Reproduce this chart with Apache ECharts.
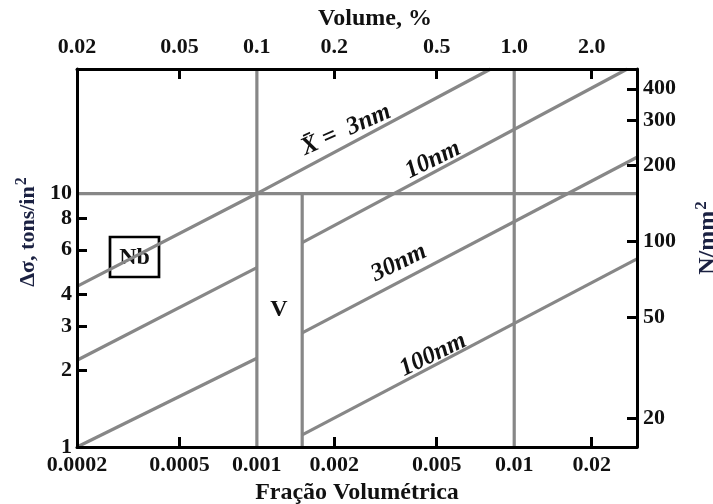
<!DOCTYPE html>
<html>
<head>
<meta charset="utf-8">
<script src="https://cdn.jsdelivr.net/npm/echarts@6/dist/echarts.min.js"></script>
<style>
  html, body { margin: 0; padding: 0; background: #ffffff; }
  #chart { width: 713px; height: 504px; }
</style>
</head>
<body>
<div id="chart"></div>
<script>
// Bottom axis: volume fraction; top axis: the same scale expressed in volume percent
const fractionLabelValues = [0.0002, 0.0005, 0.001, 0.002, 0.005, 0.01, 0.02];
const fractionLabelText   = ['0.0002', '0.0005', '0.001', '0.002', '0.005', '0.01', '0.02'];
const fractionTickValues  = [0.0005, 0.002, 0.005, 0.02];
const percentLabelValues  = [0.02, 0.05, 0.1, 0.2, 0.5, 1, 2];
const percentLabelText    = ['0.02', '0.05', '0.1', '0.2', '0.5', '1.0', '2.0'];
const percentTickValues   = [0.05, 0.2, 0.5, 2];

// Left axis: strengthening in tons/in²; right axis: the same in N/mm²
const strengthLabelValues = [1, 2, 3, 4, 6, 8, 10];
const strengthTickValues  = [2, 3, 4, 6, 8];
const stressLabelValues   = [20, 50, 100, 200, 300, 400];
const TONS_PER_IN2_TO_N_PER_MM2 = 15.444;

const fractionRange = [0.0002, 0.03];
const strengthRange = [1, 31];

// Strengthening vs. volume fraction for each mean particle size.
// Each curve is a list of unbroken segments of [volume fraction, Δσ (tons/in²)].
const particleSizes = ['3nm', '10nm', '30nm', '100nm'];
const curve3nm   = [[[0.0002, 4.3], [0.001, 10], [0.0081, 31]]];
const curve10nm  = [[[0.0002, 2.2], [0.001, 5.1]], [[0.0015, 6.4], [0.0275, 31]]];
const curve30nm  = [[[0.0002, 1.0], [0.001, 2.24]], [[0.0015, 2.82], [0.03, 13.9]]];
const curve100nm = [[[0.0015, 1.116], [0.03, 5.52]]];
const curves = [curve3nm, curve10nm, curve30nm, curve100nm];

// Reference lines: 0.1 % and 1 % volume, Δσ = 10 tons/in², and the upper edge of the V band
const guideFractions = [0.001, 0.01];
const guideStrength = 10;
const vanadiumBandEdge = 0.0015;

const FONT = '"Liberation Serif", "Times New Roman", serif';
const GREY = '#878787';
const INK = '#111111';
const TITLE_INK = '#1b2142';

function lookup(values, texts) {
  return function (v) {
    for (let i = 0; i < values.length; i++) {
      if (Math.abs(values[i] - v) / values[i] < 1e-6) return texts[i];
    }
    return String(v);
  };
}

const frameLine = { show: true, onZero: false, lineStyle: { color: '#000', width: 3 } };
const tickStyle = { color: '#000', width: 3 };
const labelStyle = { fontFamily: FONT, fontWeight: 'bold', fontSize: 22, color: INK };
const titleStyle = { fontFamily: FONT, fontWeight: 'bold', fontSize: 24, color: INK };

function lineSeries(data, name) {
  return {
    type: 'line', name: name, data: data,
    xAxisIndex: 0, yAxisIndex: 0,
    showSymbol: false, symbol: 'none', silent: true, clip: true,
    lineStyle: { color: GREY, width: 3.2 },
    z: 2
  };
}

const series = [];
guideFractions.forEach(function (f) {
  series.push(lineSeries([[f, strengthRange[0]], [f, strengthRange[1]]], 'guide'));
});
series.push(lineSeries([[fractionRange[0], guideStrength], [fractionRange[1], guideStrength]], 'guide'));
series.push(lineSeries([[vanadiumBandEdge, strengthRange[0]], [vanadiumBandEdge, guideStrength]], 'V'));
curves.forEach(function (segments, i) {
  segments.forEach(function (seg) { series.push(lineSeries(seg, particleSizes[i])); });
});

const chart = echarts.init(document.getElementById('chart'), null, { renderer: 'canvas' });

function annotation(text, x, y, deg, style) {
  return {
    type: 'text', x: x, y: y, rotation: deg * Math.PI / 180, z: 10,
    style: Object.assign({
      text: text, x: 0, y: 0,
      align: 'center', verticalAlign: 'middle',
      textAlign: 'center', textVerticalAlign: 'middle',
      fontFamily: FONT, fontWeight: 'bold', fontStyle: 'italic', fontSize: 25, fill: INK
    }, style || {})
  };
}

chart.setOption({
  backgroundColor: '#ffffff',
  animation: false,
  grid: { left: 77, right: 76, top: 69, bottom: 57, containLabel: false, outerBoundsMode: 'none' },
  xAxis: [
    {
      type: 'log', logBase: 10, position: 'bottom',
      min: fractionRange[0], max: fractionRange[1], z: 5,
      axisLine: frameLine,
      axisTick: { show: true, inside: true, length: 10, lineStyle: tickStyle, customValues: fractionTickValues },
      axisLabel: Object.assign({ margin: 7, customValues: fractionLabelValues,
        formatter: lookup(fractionLabelValues, fractionLabelText) }, labelStyle),
      splitLine: { show: false }, minorTick: { show: false },
      name: 'Fração Volumétrica', nameLocation: 'middle', nameGap: 33,
      nameTextStyle: titleStyle
    },
    {
      type: 'log', logBase: 10, position: 'top',
      min: fractionRange[0] * 100, max: fractionRange[1] * 100, z: 5,
      axisLine: frameLine,
      axisTick: { show: true, inside: true, length: 10, lineStyle: tickStyle, customValues: percentTickValues },
      axisLabel: Object.assign({ margin: 11, customValues: percentLabelValues,
        formatter: lookup(percentLabelValues, percentLabelText) }, labelStyle),
      splitLine: { show: false }, minorTick: { show: false },
      name: 'Volume, %', nameLocation: 'middle', nameGap: 38,
      nameTextStyle: Object.assign({ padding: [0, 0, 0, 36] }, titleStyle)
    }
  ],
  yAxis: [
    {
      type: 'log', logBase: 10, position: 'left',
      min: strengthRange[0], max: strengthRange[1], z: 5,
      axisLine: frameLine,
      axisTick: { show: true, inside: true, length: 10, lineStyle: tickStyle, customValues: strengthTickValues },
      axisLabel: Object.assign({ margin: 5, customValues: strengthLabelValues }, labelStyle),
      splitLine: { show: false }, minorTick: { show: false },
      name: '{t|Δσ, tons/in}{s|2}', nameLocation: 'middle', nameGap: 34, nameRotate: 90,
      nameTextStyle: {
        padding: [0, 0, 0, 52],
        rich: {
          t: { fontFamily: FONT, fontWeight: 'bold', fontSize: 22, color: TITLE_INK },
          s: { fontFamily: FONT, fontWeight: 'bold', fontSize: 16, color: TITLE_INK, padding: [0, 0, 12, 1] }
        }
      }
    },
    {
      type: 'log', logBase: 10, position: 'right',
      min: strengthRange[0] * TONS_PER_IN2_TO_N_PER_MM2,
      max: strengthRange[1] * TONS_PER_IN2_TO_N_PER_MM2, z: 5,
      axisLine: frameLine,
      axisTick: { show: true, inside: true, length: 10, lineStyle: tickStyle, customValues: stressLabelValues },
      axisLabel: Object.assign({ margin: 6, customValues: stressLabelValues }, labelStyle),
      splitLine: { show: false }, minorTick: { show: false },
      name: '{t|N/mm}{s|2}', nameLocation: 'middle', nameGap: 56, nameRotate: 90,
      nameTextStyle: {
        padding: [0, 0, 0, 40],
        rich: {
          t: { fontFamily: FONT, fontWeight: 'bold', fontSize: 24, color: TITLE_INK },
          s: { fontFamily: FONT, fontWeight: 'bold', fontSize: 17, color: TITLE_INK, padding: [0, 0, 13, 1] }
        }
      }
    }
  ],
  series: series,
  graphic: [
    {
      type: 'group', x: 110, y: 237, z: 10,
      children: [
        { type: 'rect', shape: { x: 0, y: 0, width: 49, height: 40 },
          style: { fill: '#ffffff', stroke: '#000', lineWidth: 2.7 } },
        { type: 'text', x: 24.5, y: 21,
          style: { text: 'Nb', x: 0, y: 0, align: 'center', verticalAlign: 'middle',
                   textAlign: 'center', textVerticalAlign: 'middle',
                   fontFamily: FONT, fontWeight: 'bold', fontSize: 24, fill: INK } }
      ]
    },
    annotation('V', 279, 310, 0, { fontStyle: 'normal', fontSize: 24 }),
    annotation('X\u0304 =  3nm', 346, 130, 24),
    annotation('10nm', 433, 160, 26),
    annotation('30nm', 399, 263, 26),
    annotation('100nm', 433, 355, 26)
  ]
});
</script>
</body>
</html>
